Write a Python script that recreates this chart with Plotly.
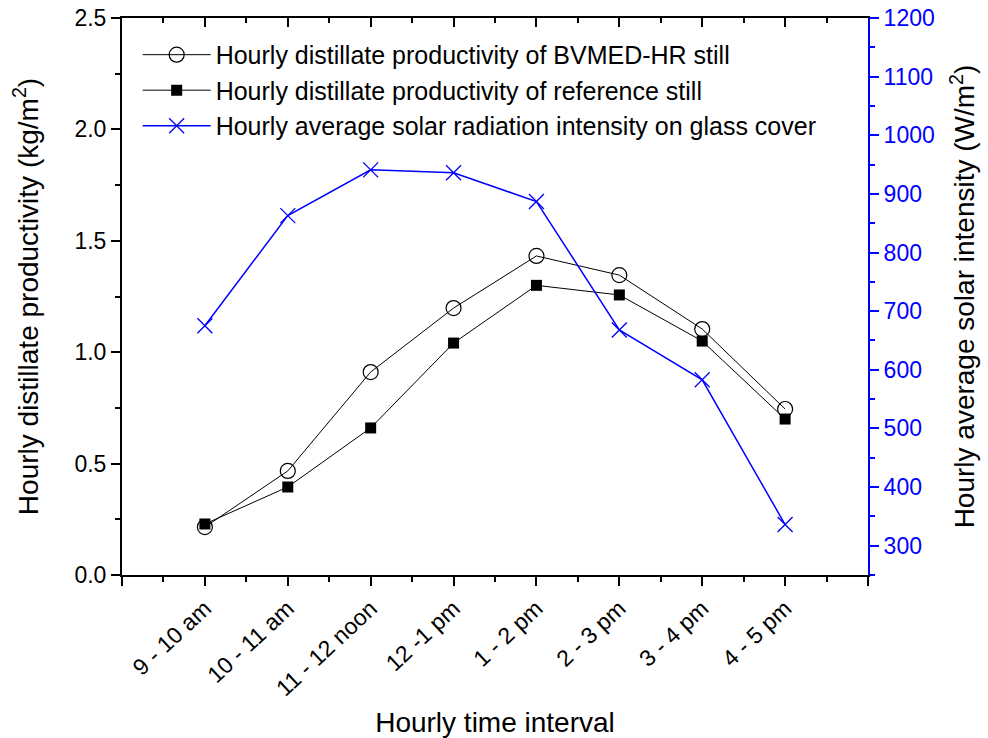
import plotly.graph_objects as go

categories = ["9 - 10 am", "10 - 11 am", "11 - 12 noon", "12 -1 pm", "1 - 2 pm", "2 - 3 pm", "3 - 4 pm", "4 - 5 pm"]
bvmed = [0.215, 0.467, 0.911, 1.198, 1.432, 1.346, 1.104, 0.745]
reference = [0.229, 0.395, 0.66, 1.041, 1.30, 1.257, 1.05, 0.70]
solar = [675, 863, 941, 936, 887, 668, 583, 336]

xpos = list(range(1, len(categories) + 1))
FONT = "Liberation Sans, Arial, sans-serif"
BLUE = "#0000ff"

fig = go.Figure()
fig.add_trace(go.Scatter(
    x=xpos, y=bvmed, mode="lines+markers",
    name="Hourly distillate productivity of BVMED-HR still",
    line=dict(color="black", width=1),
    marker=dict(symbol="circle-open", size=15, color="black", line=dict(width=1.2)),
))
fig.add_trace(go.Scatter(
    x=xpos, y=reference, mode="lines+markers",
    name="Hourly distillate productivity of reference still",
    line=dict(color="black", width=1),
    marker=dict(symbol="square", size=11, color="black"),
))
fig.add_trace(go.Scatter(
    x=xpos, y=solar, mode="lines+markers", yaxis="y2",
    name="Hourly average solar radiation intensity on glass cover",
    line=dict(color=BLUE, width=1.5),
    marker=dict(symbol="x-thin-open", size=15, color=BLUE, line=dict(width=1.3, color=BLUE)),
))
# invisible trace to hold top axis
fig.add_trace(go.Scatter(x=[0], y=[0], xaxis="x2", mode="markers",
                         marker=dict(opacity=0), showlegend=False, hoverinfo="skip"))

tickvals = list(range(0, len(categories) + 2))
ticktext = [""] + categories + [""]

fig.update_layout(
    width=988, height=738,
    margin=dict(l=122, r=120, t=18, b=163),
    plot_bgcolor="white", paper_bgcolor="white",
    font=dict(family=FONT, size=23, color="black"),
    showlegend=True,
    legend=dict(x=0.021, y=0.975, xanchor="left", yanchor="top",
                bgcolor="rgba(0,0,0,0)", font=dict(size=25, family=FONT),
                tracegroupgap=0, itemwidth=68),
    xaxis=dict(
        range=[0, 9], tickmode="array", tickvals=tickvals, ticktext=ticktext,
        tickangle=-43, ticks="outside", ticklen=9, tickwidth=1.5, tickcolor="black",
        minor=dict(dtick=0.5, tick0=0, ticks="outside", ticklen=5, tickwidth=1.5, tickcolor="black"),
        showline=True, linecolor="black", linewidth=2, showgrid=False, zeroline=False,
        tickfont=dict(size=23, family=FONT), automargin=False,
        title=dict(text="Hourly time interval", font=dict(size=28, family=FONT), standoff=13),
    ),
    xaxis2=dict(
        range=[0, 9], overlaying="x", side="top", tickmode="array", tickvals=tickvals,
        showticklabels=False, ticks="inside", ticklen=9, tickwidth=1.5, tickcolor="black",
        minor=dict(dtick=0.5, tick0=0, ticks="inside", ticklen=5, tickwidth=1.5, tickcolor="black"),
        showline=True, linecolor="black", linewidth=2, showgrid=False, zeroline=False,
        automargin=False,
    ),
    yaxis=dict(
        range=[0, 2.5], dtick=0.5, tickformat=".1f", ticks="outside", ticklen=9, tickwidth=1.5,
        tickcolor="black",
        minor=dict(dtick=0.25, ticks="outside", ticklen=5, tickwidth=1.5, tickcolor="black"),
        showline=True, linecolor="black", linewidth=2, showgrid=False, zeroline=False,
        tickfont=dict(size=23, family=FONT), automargin=False,
        title=dict(text="Hourly distillate productivity (kg/m<sup>2</sup>)", font=dict(size=28, family=FONT), standoff=28),
    ),
    yaxis2=dict(
        range=[250, 1200], dtick=100, tick0=0, overlaying="y", side="right",
        ticks="outside", ticklen=9, tickwidth=1.5, tickcolor=BLUE,
        minor=dict(dtick=50, ticks="outside", ticklen=5, tickwidth=1.5, tickcolor=BLUE),
        showline=True, linecolor=BLUE, linewidth=2, showgrid=False, zeroline=False,
        tickfont=dict(size=23, family=FONT, color=BLUE), automargin=False,
        title=dict(text="Hourly average solar intensity (W/m<sup>2</sup>)", font=dict(size=28, family=FONT, color="black"), standoff=21),
    ),
)

fig.write_html("out.html")
